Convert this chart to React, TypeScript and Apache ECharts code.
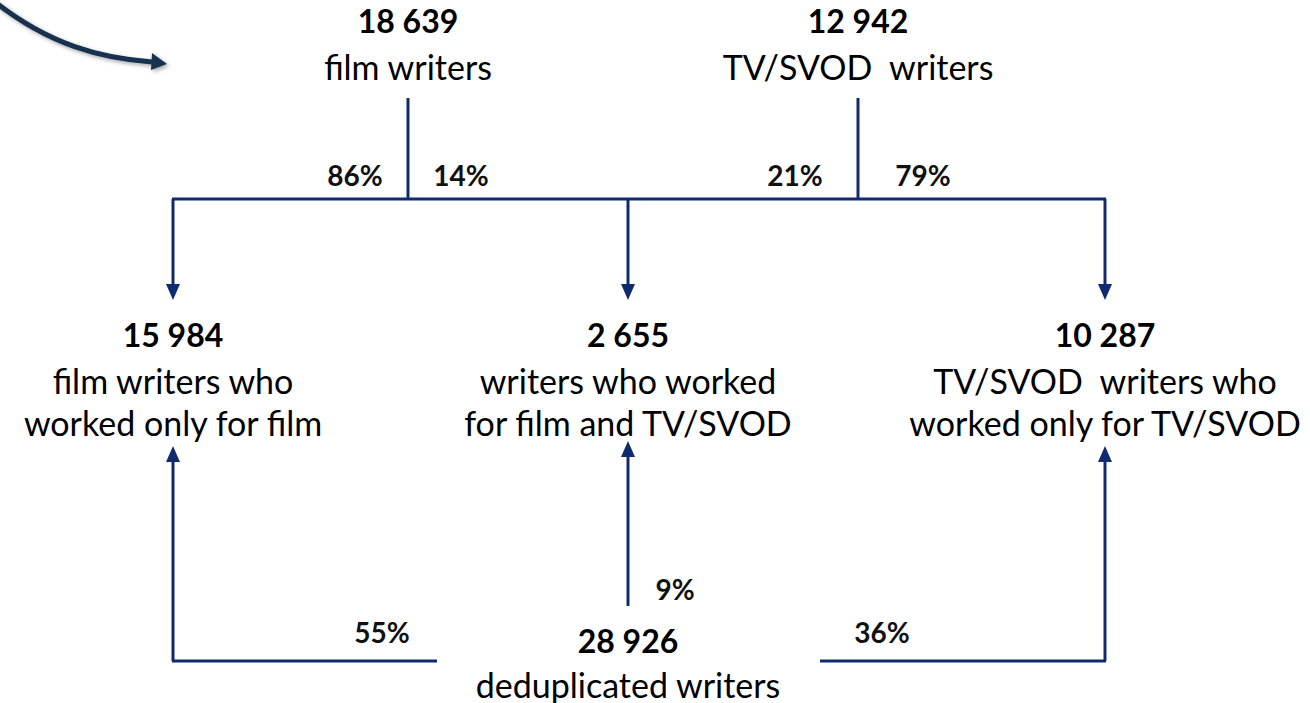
import React, { useEffect, useRef } from "react";
import * as echarts from "echarts";

// ---- data ----
const nodeValues = ["18 639", "12 942", "15 984", "2 655", "10 287", "28 926"];
const nodeLabels = [
  ["film writers"],
  ["TV/SVOD  writers"],
  ["film writers who", "worked only for film"],
  ["writers who worked", "for film and TV/SVOD"],
  ["TV/SVOD  writers who", "worked only for TV/SVOD"],
  ["deduplicated writers"],
];
const topShares = ["86%", "14%", "21%", "79%"];
const bottomShares = ["55%", "9%", "36%"];

// ---- layout ----
const NAVY = "#0f2a6e";
const FONT = "Lato, 'Open Sans', sans-serif";
const nodePos: [number, number][] = [
  [408, 20],
  [858, 20],
  [173, 334],
  [628, 334],
  [1105, 334],
  [628, 640],
];
const topSharePos: [number, number][] = [
  [355, 175],
  [461, 175],
  [795, 175],
  [923, 175],
];
const bottomSharePos: [number, number][] = [
  [382, 632],
  [675, 589],
  [882, 632],
];

function line(x1: number, y1: number, x2: number, y2: number) {
  return {
    type: "line",
    shape: { x1, y1, x2, y2 },
    style: { stroke: NAVY, lineWidth: 3 },
  };
}
function arrowDown(x: number, tipY: number) {
  return {
    type: "polygon",
    shape: { points: [[x - 7, tipY - 16], [x + 7, tipY - 16], [x, tipY]] },
    style: { fill: NAVY },
  };
}
function arrowUp(x: number, tipY: number) {
  return {
    type: "polygon",
    shape: { points: [[x - 7, tipY + 16], [x + 7, tipY + 16], [x, tipY]] },
    style: { fill: NAVY },
  };
}

export default function App() {
  const ref = useRef<HTMLDivElement>(null);
  useEffect(() => {
    if (!ref.current) return;
    const chart = echarts.init(ref.current, undefined, { renderer: "svg" });
    const elements: any[] = [];

    // top connectors
    elements.push(line(408, 98, 408, 199));
    elements.push(line(858, 98, 858, 199));
    elements.push(line(172, 199, 1106, 199));
    elements.push(line(173, 199, 173, 286));
    elements.push(line(628, 199, 628, 286));
    elements.push(line(1105, 199, 1105, 286));
    elements.push(arrowDown(173, 300));
    elements.push(arrowDown(628, 300));
    elements.push(arrowDown(1105, 300));

    // bottom connectors
    elements.push(line(173, 661, 173, 460));
    elements.push(line(172, 661, 437, 661));
    elements.push(arrowUp(173, 446));
    elements.push(line(628, 606, 628, 455));
    elements.push(arrowUp(628, 441));
    elements.push(line(820, 661, 1106, 661));
    elements.push(line(1105, 661, 1105, 460));
    elements.push(arrowUp(1105, 446));

    // curved arrow top-left
    elements.push({
      type: "bezierCurve",
      shape: { x1: -5, y1: 2, cpx1: 50, cpy1: 45, cpx2: 100, cpy2: 58, x2: 152, y2: 62 },
      style: {
        stroke: "#15314f",
        lineWidth: 5,
        fill: null,
        shadowBlur: 4,
        shadowColor: "rgba(0,0,0,0.35)",
        shadowOffsetX: 2,
        shadowOffsetY: 2,
      },
    });
    elements.push({
      type: "polygon",
      shape: { points: [[152, 53], [167, 64], [151, 70]] },
      style: {
        fill: "#15314f",
        shadowBlur: 4,
        shadowColor: "rgba(0,0,0,0.35)",
        shadowOffsetX: 2,
        shadowOffsetY: 2,
      },
    });

    // node texts
    nodeValues.forEach((v, i) => {
      const [x, y] = nodePos[i];
      elements.push({
        type: "text",
        x,
        y,
        style: {
          text: v,
          fill: "#000",
          font: `bold 32px ${FONT}`,
          textAlign: "center",
          textVerticalAlign: "middle",
        },
      });
      nodeLabels[i].forEach((t, j) => {
        elements.push({
          type: "text",
          x,
          y: (i === 5 ? y + 44 : y + 46) + j * 42,
          style: {
            text: t,
            fill: "#000",
            font: `34px ${FONT}`,
            textAlign: "center",
            textVerticalAlign: "middle",
          },
        });
      });
    });

    // percentages
    const pct = (t: string, [x, y]: [number, number]) => ({
      type: "text",
      x,
      y,
      style: {
        text: t,
        fill: "#111",
        font: `bold 28px ${FONT}`,
        textAlign: "center",
        textVerticalAlign: "middle",
      },
    });
    topShares.forEach((t, i) => elements.push(pct(t, topSharePos[i])));
    bottomShares.forEach((t, i) => elements.push(pct(t, bottomSharePos[i])));

    chart.setOption({
      animation: false,
      backgroundColor: "#ffffff",
      graphic: { elements },
    });
    return () => chart.dispose();
  }, []);
  return (
    <div
      ref={ref}
      style={{ position: "absolute", left: 0, top: 0, width: 1310, height: 703 }}
    />
  );
}
